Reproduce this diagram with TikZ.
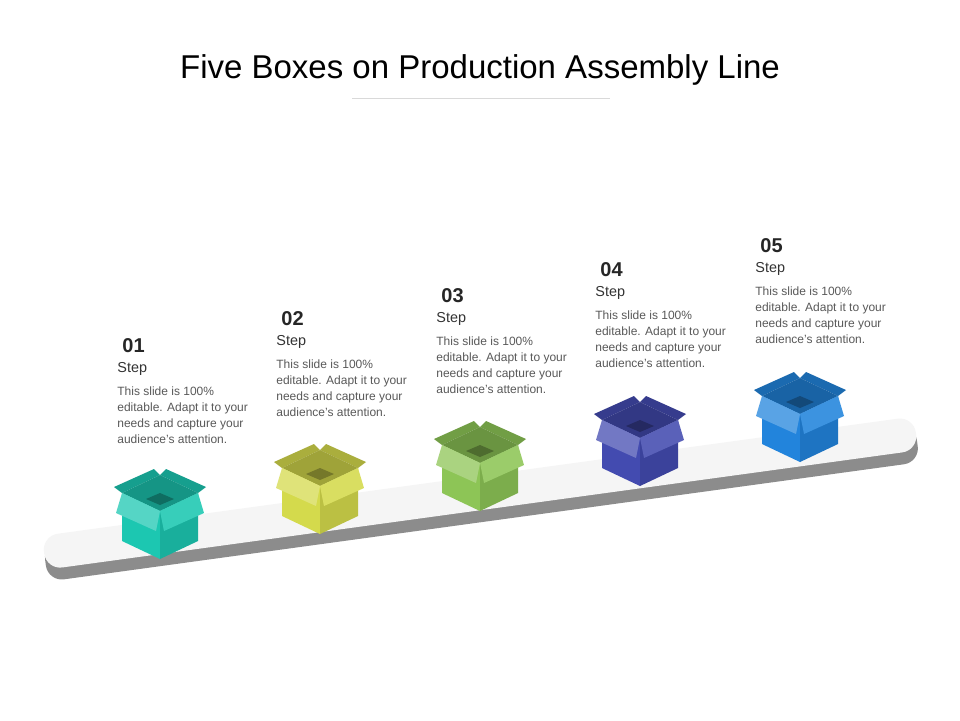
\documentclass[tikz,border=0pt]{standalone}
\usepackage{fontspec}
\setmainfont{Liberation Sans}
\definecolor{txtgray}{HTML}{595959}
\definecolor{boxa}{HTML}{1CC7B1}
\definecolor{boxb}{HTML}{D4DA4C}
\definecolor{boxc}{HTML}{8DC556}
\definecolor{boxd}{HTML}{434BB0}
\definecolor{boxe}{HTML}{2284DC}
\begin{document}
\begin{tikzpicture}[x=0.5pt,y=-0.5pt,
  num/.style={anchor=north west,inner sep=0pt,font=\fontsize{10}{12}\selectfont\bfseries,text=black!85},
  steplbl/.style={anchor=north west,inner sep=0pt,font=\fontsize{7.2}{8}\selectfont,text=black!80},
  body/.style={anchor=north west,inner sep=0pt,align=left,font=\fontsize{6}{8}\selectfont,text=txtgray},
  pics/openbox/.style args={#1}{code={
    % back flaps
    \fill[#1!80!black] (-38,0) -- (0,-18) -- (-6,-24) -- (-46,-6) -- cycle;
    \fill[#1!80!black] (38,0) -- (0,-18) -- (6,-24) -- (46,-6) -- cycle;
    % inside
    \fill[#1!75!black] (-38,0) -- (0,-18) -- (38,0) -- (0,18) -- cycle;
    \fill[#1!55!black] (-14,6) -- (0,0) -- (14,6) -- (0,12) -- cycle;
    % sides
    \fill[#1] (-38,0) -- (0,18) -- (0,66) -- (-38,48) -- cycle;
    \fill[#1!88!black] (38,0) -- (0,18) -- (0,66) -- (38,48) -- cycle;
    % front flaps
    \fill[#1!75!white] (-38,0) -- (0,18) -- (-4,38) -- (-44,20) -- cycle;
    \fill[#1!88!white] (38,0) -- (0,18) -- (4,38) -- (44,20) -- cycle;
  }}]
\fill[white] (0,0) rectangle (960,720);
% title
\node (title) at (480,70) {\fontsize{16.5}{20}\selectfont Five Boxes on Production Assembly Line};
\draw[black!15,line width=0.4pt] (352,98) -- (610,98);
% conveyor
\begin{scope}[shift={(481,500)},rotate=7.8]
  \fill[black!45,rounded corners=8pt] (-440,-16) rectangle (440,22);
  \fill[black!4,rounded corners=8pt] (-440,-24) rectangle (440,10);
\end{scope}
% boxes
\pic at (160,493) {openbox={boxa}};
\pic at (320,468) {openbox={boxb}};
\pic at (480,445) {openbox={boxc}};
\pic at (640,420) {openbox={boxd}};
\pic at (800,396) {openbox={boxe}};
% texts
\foreach \i/\x/\y in {1/117/338,2/276/311,3/436/288,4/595/262,5/755/238}{
  \node[num] (n\i) at (\x+5,\y) {0\i};
  \node[steplbl] (s\i) at (\x,\y+24) {Step};
  \node[body] (b\i) at (\x,\y+48) {This slide is 100\%\\editable. Adapt it to your\\needs and capture your\\audience's attention.};
}
\end{tikzpicture}
\end{document}
